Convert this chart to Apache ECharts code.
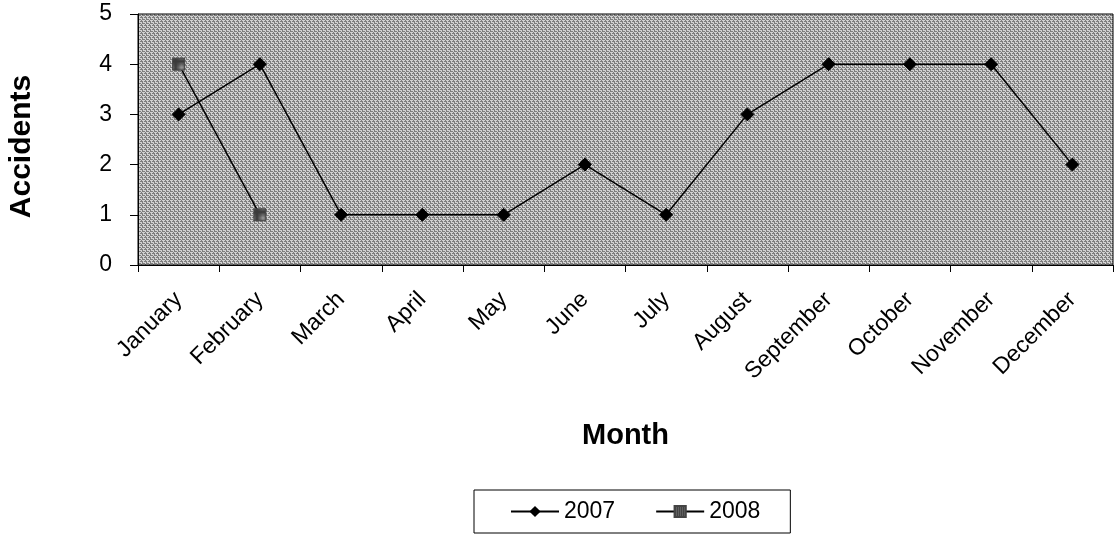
<!DOCTYPE html>
<html>
<head>
<meta charset="utf-8">
<style>
  html, body { margin: 0; padding: 0; background: #fff; }
  #chart { width: 1115px; height: 539px; }
</style>
<script src="https://cdn.jsdelivr.net/npm/echarts@6/dist/echarts.min.js"></script>
</head>
<body>
<div id="chart"></div>
<script>
// Monthly accident counts
const months = ['January', 'February', 'March', 'April', 'May', 'June',
  'July', 'August', 'September', 'October', 'November', 'December'];
const accidents2007 = [3, 4, 1, 1, 1, 2, 1, 3, 4, 4, 4, 2];
const accidents2008 = [4, 1, null, null, null, null, null, null, null, null, null, null];
const yTicks = [0, 1, 2, 3, 4, 5];

// Stippled gray fill for the plot area
function stipple() {
  const rows = [
    'LDLL',
    'DDDL',
    'LLDL',
    'DLDD'
  ];
  const c = document.createElement('canvas');
  c.width = 4; c.height = 4;
  const ctx = c.getContext('2d');
  rows.forEach((r, y) => {
    for (let x = 0; x < 4; x++) {
      ctx.fillStyle = r[x] === 'L' ? '#d2d2d2' : '#7e7e7e';
      ctx.fillRect(x, y, 1, 1);
    }
  });
  return c;
}

// Darker stipple for the 2008 square markers
function darkStipple() {
  const c = document.createElement('canvas');
  c.width = 2; c.height = 2;
  const ctx = c.getContext('2d');
  ctx.fillStyle = '#3a3a3a'; ctx.fillRect(0, 0, 2, 2);
  ctx.fillStyle = '#9a9a9a'; ctx.fillRect(0, 0, 1, 1);
  return c;
}

const FONT = '"Liberation Sans", Arial, sans-serif';
const chart = echarts.init(document.getElementById('chart'), null, { renderer: 'canvas' });

chart.setOption({
  animation: false,
  backgroundColor: '#ffffff',
  grid: {
    left: 138, right: 2, top: 14, bottom: 274,
    outerBoundsMode: 'none',
    containLabel: false,
    show: true,
    backgroundColor: { image: stipple(), repeat: 'repeat' },
    borderColor: '#000',
    borderWidth: 1
  },
  legend: {
    left: 474, top: 490,
    padding: [10, 30, 10, 36],
    itemGap: 40,
    itemWidth: 48,
    itemHeight: 14,
    borderColor: '#000',
    borderWidth: 1,
    textStyle: { fontFamily: FONT, fontSize: 23, color: '#000', padding: [0, 0, 0, 0] },
    data: ['2007', '2008']
  },
  xAxis: {
    type: 'category',
    data: months,
    boundaryGap: true,
    name: 'Month',
    nameLocation: 'middle',
    nameGap: 156,
    nameTextStyle: { fontFamily: FONT, fontSize: 29, fontWeight: 'bold', color: '#000' },
    axisLine: { lineStyle: { color: '#000', width: 1 } },
    axisTick: { show: true, alignWithLabel: false, length: 7, lineStyle: { color: '#000' } },
    axisLabel: {
      rotate: 45,
      margin: 31,
      fontFamily: FONT, fontSize: 23, color: '#000'
    },
    splitLine: { show: false }
  },
  yAxis: {
    type: 'value',
    min: yTicks[0],
    max: yTicks[yTicks.length - 1],
    interval: 1,
    name: 'Accidents',
    nameLocation: 'middle',
    nameGap: 101,
    nameTextStyle: {
      fontFamily: FONT, fontSize: 30, fontWeight: 'bold', color: '#000',
      padding: [0, 14, 0, 0]
    },
    axisLine: { show: true, lineStyle: { color: '#000', width: 1 } },
    axisTick: { show: true, length: 8, lineStyle: { color: '#000' } },
    axisLabel: { margin: 26, fontFamily: FONT, fontSize: 23, color: '#000' },
    splitLine: { show: false }
  },
  series: [
    {
      name: '2007',
      type: 'line',
      data: accidents2007,
      symbol: 'diamond',
      symbolSize: 13,
      lineStyle: { color: '#000', width: 1.5 },
      itemStyle: { color: '#000', borderColor: '#000' },
      z: 3
    },
    {
      name: '2008',
      type: 'line',
      data: accidents2008,
      connectNulls: false,
      symbol: 'rect',
      symbolSize: 12,
      lineStyle: { color: '#000', width: 1.5 },
      itemStyle: {
        color: { image: darkStipple(), repeat: 'repeat' },
        borderColor: '#444',
        borderWidth: 1
      },
      z: 2
    }
  ]
});
</script>
</body>
</html>
